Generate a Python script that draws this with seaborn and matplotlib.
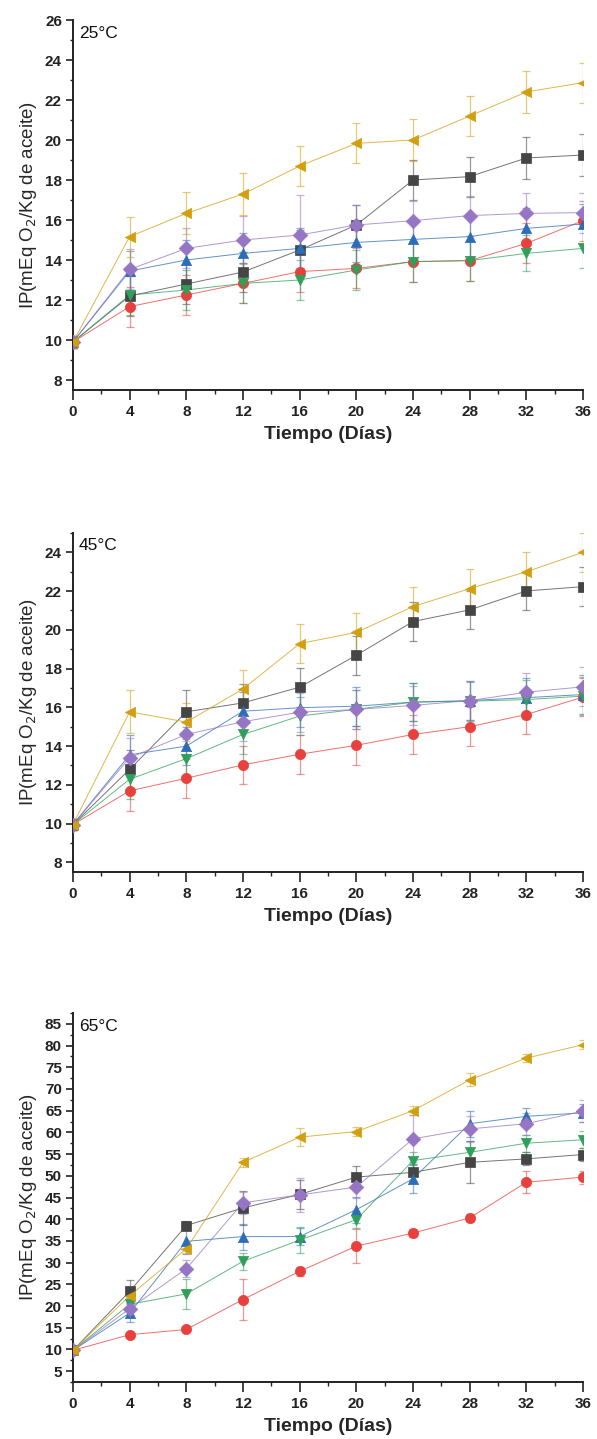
import numpy as np
import pandas as pd
import matplotlib
matplotlib.use("Agg")
import matplotlib.pyplot as plt
from matplotlib.ticker import MultipleLocator
import seaborn as sns

sns.set_theme(style="ticks")
plt.rcParams['font.family'] = ['Liberation Sans', 'DejaVu Sans']

days = [0, 4, 8, 12, 16, 20, 24, 28, 32, 36]
series_names = ["S1", "S2", "S3", "S4", "S5", "S6"]
colors = ["#454545", "#e8403c", "#2d6db8", "#2fa05a", "#9575c4", "#d2a00f"]
markers = ["s", "o", "^", "v", "D", "<"]

# 25 °C
t25_black = [9.9, 12.2, 12.8, 13.4, 14.5, 15.75, 18.0, 18.17, 19.1, 19.25]
t25_red = [9.9, 11.67, 12.25, 12.83, 13.42, 13.58, 13.92, 13.97, 14.83, 15.97]
t25_blue = [9.9, 13.45, 14.0, 14.33, 14.58, 14.88, 15.03, 15.17, 15.58, 15.8]
t25_green = [9.9, 12.25, 12.5, 12.83, 13.0, 13.5, 13.92, 13.97, 14.33, 14.58]
t25_purple = [9.9, 13.53, 14.58, 15.0, 15.25, 15.75, 15.97, 16.22, 16.33, 16.37]
t25_yellow = [9.9, 15.17, 16.33, 17.3, 18.7, 19.83, 20.0, 21.2, 22.4, 22.87]
e25_black = [0.3, 1.0, 1.0, 1.0, 1.0, 1.0, 1.0, 1.0, 1.05, 1.05]
e25_red = [0.3, 1.0, 1.0, 1.0, 1.0, 1.0, 1.0, 1.0, 1.0, 1.0]
e25_blue = [0.3, 1.0, 1.0, 1.0, 1.0, 1.0, 1.0, 1.0, 1.0, 1.0]
e25_green = [0.3, 1.0, 1.0, 1.0, 1.0, 1.0, 1.0, 1.0, 0.9, 1.0]
e25_purple = [0.3, 1.0, 1.0, 1.2, 2.0, 1.0, 1.0, 1.0, 1.0, 1.0]
e25_yellow = [0.3, 1.0, 1.05, 1.05, 1.0, 1.0, 1.05, 1.0, 1.05, 1.0]

# 45 °C
t45_black = [9.95, 12.8, 15.77, 16.23, 17.04, 18.69, 20.43, 21.03, 22.01, 22.23]
t45_red = [9.95, 11.69, 12.34, 13.03, 13.58, 14.04, 14.6, 15.0, 15.63, 16.53]
t45_blue = [9.95, 13.55, 14.0, 15.8, 15.98, 16.06, 16.27, 16.35, 16.5, 16.66]
t45_green = [9.95, 12.29, 13.35, 14.6, 15.55, 15.9, 16.27, 16.32, 16.4, 16.58]
t45_purple = [9.95, 13.4, 14.6, 15.26, 15.75, 15.89, 16.1, 16.35, 16.78, 17.06]
t45_yellow = [9.95, 15.77, 15.24, 16.95, 19.29, 19.87, 21.2, 22.13, 23.0, 24.0]
e45_black = [0.3, 1.0, 1.1, 1.0, 1.0, 1.0, 1.0, 1.0, 1.0, 1.0]
e45_red = [0.3, 1.05, 1.0, 1.0, 1.0, 1.0, 1.0, 1.0, 1.0, 1.0]
e45_blue = [0.3, 1.0, 1.0, 1.0, 1.0, 1.0, 1.0, 1.0, 1.0, 1.0]
e45_green = [0.3, 1.0, 1.0, 1.0, 1.0, 1.0, 1.0, 1.0, 1.0, 1.0]
e45_purple = [0.3, 1.0, 1.0, 1.0, 1.0, 1.0, 1.0, 1.0, 1.0, 1.0]
e45_yellow = [0.3, 1.1, 1.0, 1.0, 1.0, 1.0, 1.0, 1.0, 1.0, 1.0]

# 65 °C
t65_black = [9.8, 23.4, 38.55, 42.6, 45.7, 49.7, 50.8, 53.1, 53.9, 54.9]
t65_red = [9.8, 13.4, 14.6, 21.5, 28.0, 33.8, 36.8, 40.3, 48.5, 49.7]
t65_blue = [9.8, 18.4, 34.9, 36.0, 36.0, 42.2, 49.3, 62.0, 63.7, 64.5]
t65_green = [9.8, 20.4, 22.8, 30.3, 35.2, 39.9, 53.5, 55.4, 57.5, 58.3]
t65_purple = [9.8, 19.4, 28.6, 43.8, 45.6, 47.4, 58.5, 60.8, 62.0, 64.9]
t65_yellow = [9.8, 22.4, 33.2, 53.1, 58.9, 60.2, 65.0, 72.1, 77.1, 80.2]
e65_black = [0.5, 2.6, 1.0, 4.0, 3.3, 2.5, 2.0, 4.8, 1.5, 1.5]
e65_red = [0.5, 0.5, 0.5, 4.8, 1.0, 3.9, 1.0, 1.0, 2.5, 1.5]
e65_blue = [0.5, 2.0, 3.0, 3.0, 2.0, 3.0, 3.3, 3.0, 2.0, 2.0]
e65_green = [0.5, 1.5, 3.5, 2.0, 3.0, 2.0, 2.0, 2.5, 2.0, 2.0]
e65_purple = [0.5, 1.5, 2.0, 2.5, 4.0, 2.5, 5.4, 3.0, 2.5, 2.5]
e65_yellow = [0.5, 1.0, 1.0, 1.0, 2.0, 1.0, 1.0, 1.5, 1.0, 1.0]

panels = [
    ("25°C", [t25_black, t25_red, t25_blue, t25_green, t25_purple, t25_yellow],
     [e25_black, e25_red, e25_blue, e25_green, e25_purple, e25_yellow],
     (7.5, 26), [8, 10, 12, 14, 16, 18, 20, 22, 24, 26], 1),
    ("45°C", [t45_black, t45_red, t45_blue, t45_green, t45_purple, t45_yellow],
     [e45_black, e45_red, e45_blue, e45_green, e45_purple, e45_yellow],
     (7.5, 25), [8, 10, 12, 14, 16, 18, 20, 22, 24], 1),
    ("65°C", [t65_black, t65_red, t65_blue, t65_green, t65_purple, t65_yellow],
     [e65_black, e65_red, e65_blue, e65_green, e65_purple, e65_yellow],
     (2.5, 87.5), list(range(5, 90, 5)), 2.5),
]

W, H = 597, 1439
fig = plt.figure(figsize=(W / 100, H / 100), dpi=100)
axes_px = [(73, 20, 583, 390), (73, 533, 583, 872), (73, 1013, 583, 1382)]

for (title, vals, errs, ylim, yticks, yminor), (x0, y0, x1, y1) in zip(panels, axes_px):
    ax = fig.add_axes([x0 / W, 1 - y1 / H, (x1 - x0) / W, (y1 - y0) / H])
    for name, v, e, c, m in zip(series_names, vals, errs, colors, markers):
        df = pd.DataFrame({"day": days, "ip": v})
        ax.errorbar(days, v, yerr=e, fmt="none", ecolor=c, elinewidth=0.9,
                    capsize=3, capthick=0.9, alpha=0.55, zorder=2)
        sns.lineplot(data=df, x="day", y="ip", ax=ax, color=c, linewidth=0.7,
                     alpha=0.75, zorder=3)
        ax.scatter(days, v, marker=m, s=55, color=c, edgecolors=c,
                   linewidths=0.5, zorder=4)
    ax.set_xlim(0, 36)
    ax.set_ylim(*ylim)
    ax.set_xticks([0, 4, 8, 12, 16, 20, 24, 28, 32, 36])
    ax.xaxis.set_minor_locator(MultipleLocator(2))
    ax.set_yticks(yticks)
    ax.yaxis.set_minor_locator(MultipleLocator(yminor))
    for s in ["top", "right"]:
        ax.spines[s].set_visible(False)
    for s in ["left", "bottom"]:
        ax.spines[s].set_linewidth(1.4)
        ax.spines[s].set_color("#222222")
    ax.tick_params(axis="both", which="major", direction="out", length=5,
                   width=1.2, labelsize=11, colors="#222222", pad=3)
    ax.tick_params(axis="both", which="minor", direction="out", length=2.5,
                   width=1.0, colors="#222222")
    ax.tick_params(axis="x", which="major", length=7, pad=4)
    ax.tick_params(axis="x", which="minor", length=3)
    for lab in ax.get_xticklabels() + ax.get_yticklabels():
        lab.set_fontweight("bold")
    ax.set_xlabel("Tiempo (Días)", fontsize=14, fontweight="bold", labelpad=5)
    ax.set_ylabel("IP(mEq O$_2$/Kg de aceite)", fontsize=13.5, labelpad=4)
    ax.text(0.012, 0.985, title, transform=ax.transAxes, ha="left", va="top",
            fontsize=12.5, color="#111111")

fig.savefig("out.png", dpi=100)
